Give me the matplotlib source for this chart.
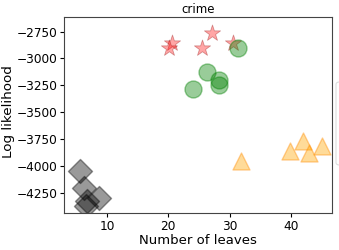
import matplotlib
matplotlib.use("Agg")
from matplotlib import pyplot as plt
from matplotlib.patches import FancyBboxPatch

# leaves vs log likelihood for each method
star_x = [20.6, 20.1, 27.1, 25.5, 30.5]
star_y = [-2857, -2904, -2765, -2904, -2857]

circle_x = [31.3, 26.3, 28.2, 28.3, 24.0]
circle_y = [-2904, -3130, -3197, -3244, -3283]

tri_x = [42.0, 39.9, 45.1, 43.0, 31.9]
tri_y = [-3768, -3861, -3815, -3876, -3954]

diam_x = [5.65, 6.3, 8.7, 6.8, 6.6]
diam_y = [-4046, -4200, -4293, -4324, -4370]

fig = plt.figure(figsize=(3.39, 2.5), dpi=100)
ax = fig.add_axes([0.189, 0.148, 0.790, 0.783])

ax.scatter(star_x, star_y, s=150, marker="*", color="red", alpha=0.35, edgecolors="darkred", linewidths=0.6)
ax.scatter(circle_x, circle_y, s=150, marker="o", color="green", alpha=0.4, edgecolors="green")
ax.scatter(tri_x, tri_y, s=150, marker="^", color="orange", alpha=0.4, edgecolors="darkorange")
ax.scatter(diam_x, diam_y, s=150, marker="D", color="black", alpha=0.4, edgecolors="black")

ax.set_xlim(3.0, 46.7)
ax.set_ylim(-4435, -2617)
ax.set_xticks([10, 20, 30, 40])
ax.set_yticks([-4250, -4000, -3750, -3500, -3250, -3000, -2750])

ax.set_title("crime", fontsize=8.5, pad=3)
ax.set_xlabel("Number of leaves", fontsize=9.5, labelpad=1)
ax.set_ylabel("Log likelihood", fontsize=9.7)
ax.yaxis.set_label_coords(-0.183, 0.52)
ax.tick_params(labelsize=8.7, length=3, pad=2)
for sp in ax.spines.values():
    sp.set_color("#444444")

# legend box peeking in from the right edge
fig.patches.append(FancyBboxPatch((336 / 339, 1 - 165 / 250), 0.05, 83 / 250,
                                  boxstyle="round,pad=0,rounding_size=0.01",
                                  transform=fig.transFigure, facecolor="white",
                                  edgecolor="#dddddd", linewidth=0.8))

fig.savefig("out.png", dpi=100)
